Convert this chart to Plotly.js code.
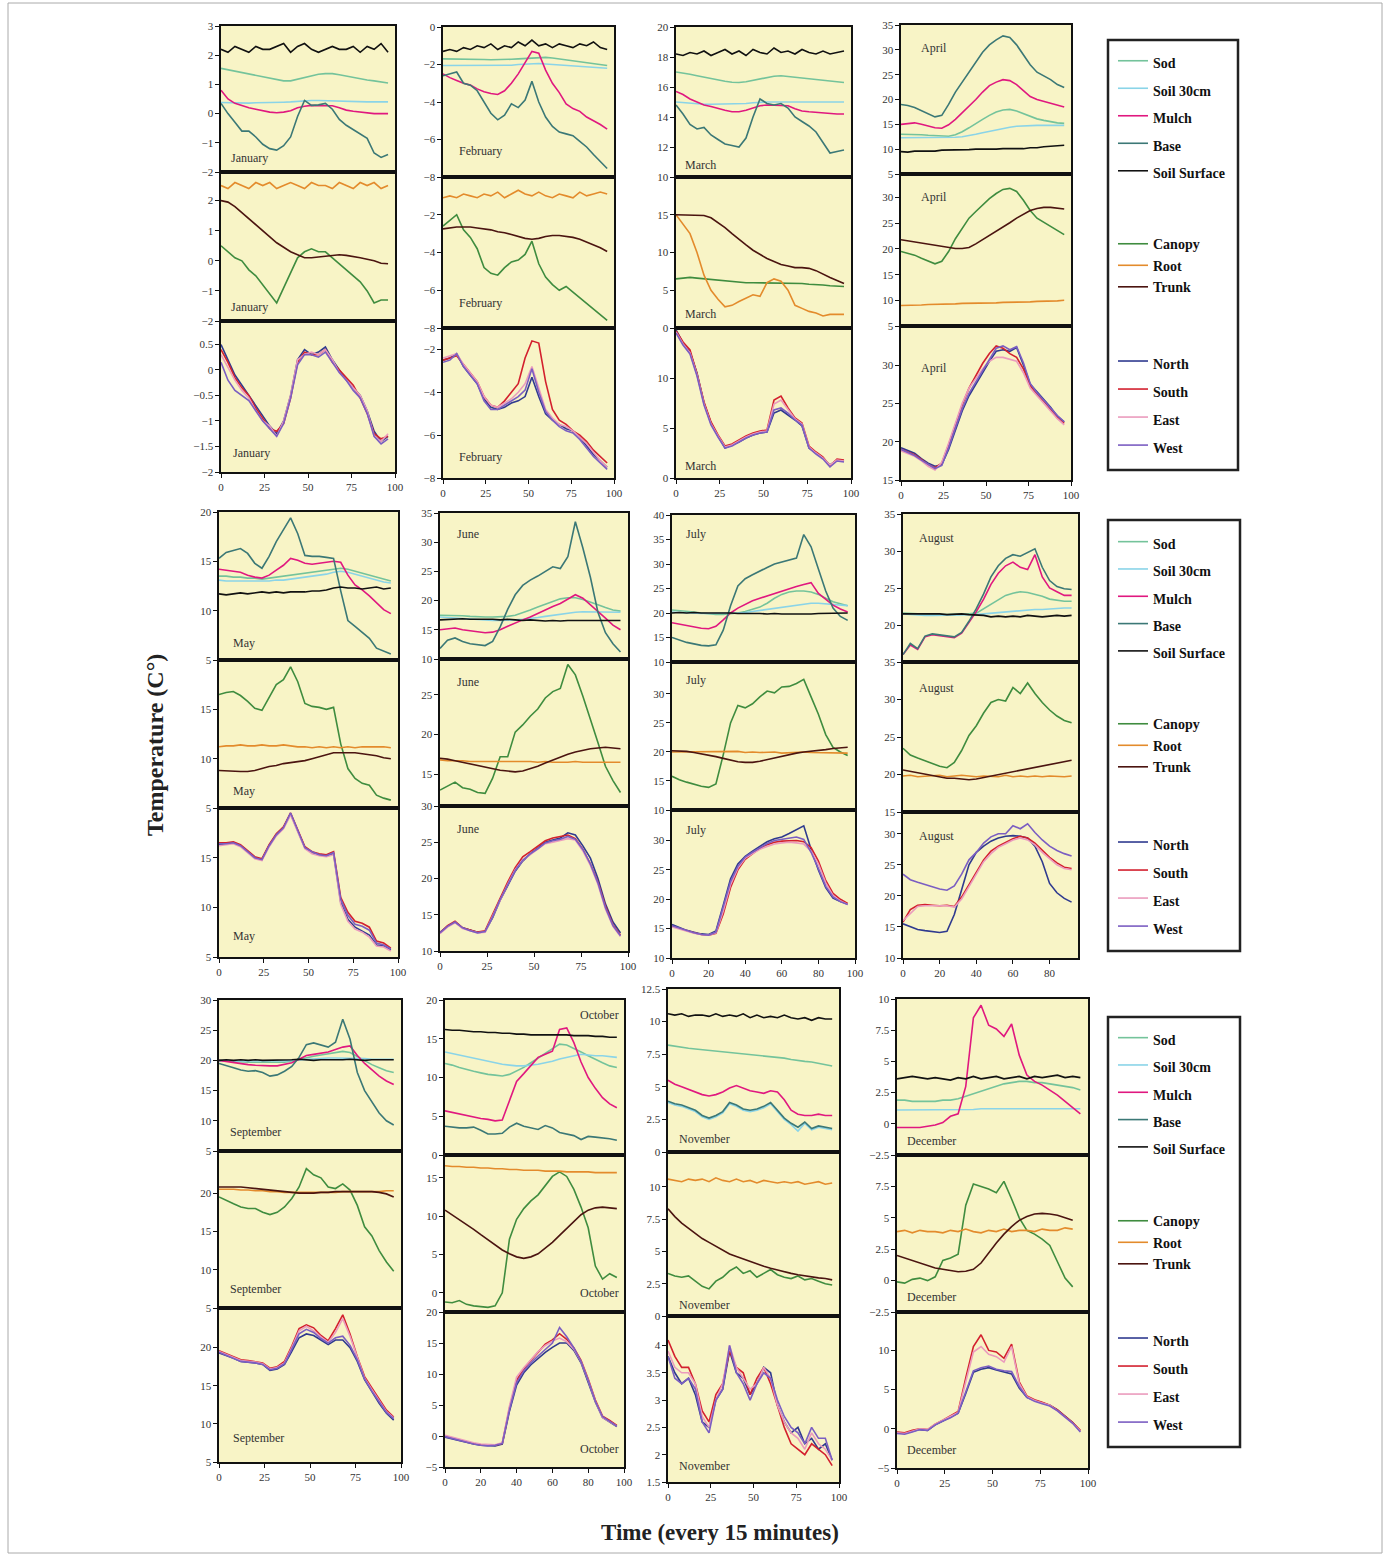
<!DOCTYPE html>
<html><head><meta charset="utf-8">
<script src="https://cdn.plot.ly/plotly-3.0.1.min.js"></script>
<style>html,body{margin:0;padding:0;background:#fff;}#chart{width:1390px;height:1557px;}</style>
</head><body><div id="chart"></div>
<script>
// ---------- x positions (quarter-hour index) ----------
const X96 = [0,4,8,12,16,20,24,28,32,36,40,44,48,52,56,60,64,68,72,76,80,84,88,92,96];
const X92 = [0,4,8,12,16,20,24,28,32,36,40,44,48,52,56,60,64,68,72,76,80,84,88,92];

// ---------- January ----------
const janSod = [1.55,1.5,1.45,1.4,1.35,1.3,1.25,1.2,1.15,1.12,1.12,1.18,1.24,1.3,1.35,1.37,1.37,1.33,1.28,1.25,1.2,1.15,1.12,1.08,1.05];
const janSoil30 = [0.38,0.37,0.37,0.36,0.36,0.37,0.37,0.38,0.38,0.39,0.4,0.42,0.44,0.45,0.45,0.44,0.43,0.42,0.41,0.41,0.4,0.4,0.4,0.41,0.4];
const janMulch = [0.8,0.5,0.35,0.27,0.2,0.15,0.1,0.05,0.03,0.05,0.1,0.2,0.25,0.28,0.27,0.28,0.27,0.2,0.12,0.08,0.05,0.03,0.0,0.0,0.0];
const janBase = [0.35,0.0,-0.3,-0.6,-0.6,-0.8,-1.05,-1.2,-1.25,-1.1,-0.8,-0.1,0.45,0.28,0.3,0.35,0.15,-0.2,-0.4,-0.55,-0.7,-0.85,-1.35,-1.5,-1.4];
const janSurf = [2.2,2.1,2.3,2.2,2.1,2.3,2.2,2.2,2.3,2.4,2.1,2.3,2.4,2.2,2.1,2.2,2.3,2.2,2.2,2.3,2.1,2.3,2.2,2.4,2.1];
const janCanopy = [0.5,0.3,0.1,0.0,-0.3,-0.5,-0.8,-1.1,-1.4,-0.9,-0.4,0.1,0.3,0.4,0.3,0.3,0.1,-0.1,-0.3,-0.5,-0.7,-1.0,-1.4,-1.3,-1.3];
const janRoot = [2.5,2.4,2.6,2.5,2.4,2.6,2.5,2.6,2.4,2.5,2.6,2.5,2.4,2.6,2.5,2.5,2.4,2.6,2.5,2.4,2.6,2.5,2.6,2.4,2.5];
const janTrunk = [2.0,1.95,1.8,1.6,1.4,1.2,1.0,0.8,0.6,0.45,0.3,0.2,0.1,0.1,0.12,0.15,0.18,0.2,0.18,0.15,0.1,0.05,0.0,-0.08,-0.1];
const janNorth = [0.5,0.2,-0.1,-0.3,-0.5,-0.7,-0.9,-1.1,-1.25,-1.0,-0.5,0.2,0.4,0.3,0.35,0.45,0.2,0.0,-0.2,-0.35,-0.5,-0.8,-1.2,-1.4,-1.3];
const janSouth = [0.4,0.15,-0.15,-0.35,-0.5,-0.75,-0.95,-1.15,-1.2,-1.05,-0.55,0.15,0.35,0.3,0.3,0.4,0.15,0.0,-0.15,-0.3,-0.55,-0.85,-1.25,-1.35,-1.3];
const janEast = [0.3,0.05,-0.2,-0.4,-0.55,-0.8,-1.0,-1.1,-1.3,-1.0,-0.5,0.2,0.3,0.35,0.3,0.4,0.2,-0.05,-0.2,-0.35,-0.5,-0.8,-1.3,-1.4,-1.25];
const janWest = [0.15,-0.2,-0.4,-0.5,-0.6,-0.8,-1.0,-1.15,-1.3,-1.05,-0.55,0.1,0.3,0.3,0.25,0.35,0.15,-0.05,-0.2,-0.4,-0.55,-0.85,-1.3,-1.45,-1.35];

// ---------- February ----------
const febSod = [-1.7,-1.7,-1.7,-1.7,-1.7,-1.72,-1.73,-1.75,-1.75,-1.75,-1.72,-1.7,-1.68,-1.65,-1.63,-1.62,-1.65,-1.7,-1.75,-1.8,-1.85,-1.9,-1.95,-2.0,-2.05];
const febSoil30 = [-2.05,-2.05,-2.06,-2.06,-2.07,-2.07,-2.08,-2.08,-2.08,-2.06,-2.04,-2.0,-1.97,-1.95,-1.95,-1.97,-2.0,-2.02,-2.05,-2.08,-2.1,-2.12,-2.15,-2.18,-2.2];
const febMulch = [-2.5,-2.7,-2.85,-3.0,-3.1,-3.3,-3.45,-3.55,-3.6,-3.4,-3.0,-2.5,-1.9,-1.3,-1.4,-2.3,-3.0,-3.5,-4.1,-4.35,-4.5,-4.8,-5.0,-5.2,-5.45];
const febBase = [-2.6,-2.5,-2.4,-3.0,-3.1,-3.4,-4.0,-4.6,-4.95,-4.7,-4.1,-4.3,-3.9,-2.9,-4.0,-4.8,-5.3,-5.6,-5.7,-5.8,-6.1,-6.4,-6.8,-7.2,-7.55];
const febSurf = [-1.3,-1.2,-1.3,-1.1,-1.2,-1.0,-1.1,-0.9,-1.2,-1.0,-1.1,-0.8,-1.0,-0.7,-1.0,-0.9,-1.1,-0.9,-1.0,-1.1,-0.9,-1.0,-0.8,-1.1,-1.2];
const febCanopy = [-2.6,-2.3,-2.0,-2.8,-3.2,-3.8,-4.8,-5.1,-5.2,-4.8,-4.5,-4.4,-4.1,-3.4,-4.6,-5.3,-5.7,-6.0,-5.8,-6.1,-6.4,-6.7,-7.0,-7.3,-7.6];
const febRoot = [-1.1,-1.0,-1.1,-0.9,-1.0,-1.1,-0.9,-1.0,-0.8,-1.1,-0.9,-0.7,-0.9,-1.0,-0.8,-1.0,-1.1,-0.9,-1.0,-1.1,-0.8,-1.0,-0.9,-0.8,-0.9];
const febTrunk = [-2.75,-2.7,-2.65,-2.65,-2.65,-2.7,-2.75,-2.8,-2.9,-2.95,-3.05,-3.15,-3.25,-3.3,-3.25,-3.15,-3.1,-3.1,-3.15,-3.2,-3.3,-3.45,-3.6,-3.75,-3.95];
const febNorth = [-2.5,-2.4,-2.2,-2.8,-3.2,-3.6,-4.3,-4.7,-4.8,-4.7,-4.5,-4.4,-4.2,-3.3,-4.2,-5.0,-5.3,-5.5,-5.7,-5.8,-6.1,-6.5,-6.9,-7.2,-7.5];
const febSouth = [-2.5,-2.4,-2.3,-2.7,-3.1,-3.5,-4.2,-4.6,-4.7,-4.4,-4.0,-3.6,-2.4,-1.6,-1.7,-3.5,-4.8,-5.3,-5.5,-5.8,-6.0,-6.3,-6.7,-7.0,-7.3];
const febEast = [-2.4,-2.3,-2.2,-2.7,-3.1,-3.5,-4.2,-4.6,-4.7,-4.5,-4.3,-4.0,-3.6,-2.8,-3.8,-4.8,-5.2,-5.5,-5.6,-5.8,-6.1,-6.4,-6.8,-7.2,-7.5];
const febWest = [-2.6,-2.5,-2.2,-2.8,-3.2,-3.6,-4.4,-4.8,-4.8,-4.6,-4.4,-4.2,-3.9,-2.9,-4.0,-4.9,-5.3,-5.6,-5.8,-5.9,-6.2,-6.6,-7.0,-7.3,-7.6];

// ---------- March ----------
const marSod = [17.0,16.95,16.85,16.75,16.65,16.55,16.45,16.38,16.32,16.3,16.35,16.45,16.55,16.65,16.72,16.75,16.72,16.65,16.6,16.55,16.5,16.45,16.4,16.35,16.3];
const marSoil30 = [15.0,14.95,14.9,14.85,14.85,14.85,14.85,14.85,14.85,14.85,14.9,14.95,15.0,15.0,15.0,15.0,15.0,14.98,14.95,14.95,14.95,14.95,14.98,15.0,15.0];
const marMulch = [15.7,15.5,15.2,15.0,14.8,14.7,14.55,14.45,14.35,14.35,14.45,14.6,14.75,14.8,14.8,14.75,14.75,14.55,14.4,14.35,14.3,14.25,14.2,14.2,14.2];
const marBase = [14.8,14.2,13.5,13.2,13.3,12.8,12.5,12.2,12.1,12.0,12.6,14.0,15.2,14.9,14.8,14.9,14.6,14.0,13.7,13.4,13.0,12.3,11.6,11.7,11.8];
const marSurf = [18.2,18.1,18.3,18.2,18.4,18.1,18.3,18.5,18.2,18.4,18.1,18.5,18.3,18.2,18.6,18.3,18.4,18.2,18.5,18.3,18.2,18.4,18.2,18.3,18.4];
const marCanopy = [6.5,6.6,6.7,6.6,6.5,6.5,6.4,6.3,6.2,6.1,6.0,6.0,6.0,6.0,6.0,6.0,5.9,5.9,5.9,5.8,5.8,5.7,5.6,5.5,5.5];
const marRoot = [15.0,13.8,12.5,10.0,7.0,5.0,3.8,2.8,3.0,3.5,4.0,4.4,4.2,6.0,6.5,6.2,5.0,3.0,2.6,2.2,2.0,1.6,1.8,1.8,1.8];
const marTrunk = [15.0,15.0,15.0,15.0,14.9,14.6,14.0,13.3,12.5,11.7,11.0,10.3,9.7,9.2,8.8,8.4,8.2,8.0,8.0,7.9,7.6,7.1,6.7,6.3,5.9];
const marNorth = [14.8,13.5,12.6,10.5,7.5,5.5,4.2,3.0,3.3,3.6,4.0,4.3,4.5,4.6,6.5,6.8,6.3,5.8,5.2,3.0,2.5,2.0,1.3,1.8,1.7];
const marSouth = [14.7,13.6,12.8,10.4,7.6,5.6,4.3,3.2,3.4,3.8,4.2,4.5,4.7,4.8,7.8,8.2,7.0,6.0,5.5,3.2,2.6,2.1,1.2,1.9,1.8];
const marEast = [14.6,13.4,12.5,10.3,7.4,5.4,4.2,3.1,3.3,3.7,4.1,4.4,4.6,4.7,7.4,7.8,6.8,5.9,5.4,3.1,2.5,2.0,1.3,1.8,1.7];
const marWest = [14.5,13.3,12.4,10.2,7.3,5.3,4.1,3.0,3.2,3.6,4.0,4.3,4.5,4.6,6.8,7.0,6.5,5.8,5.3,3.0,2.4,1.9,1.1,1.7,1.6];

// ---------- April ----------
const aprSod = [13.0,13.0,12.9,12.9,12.8,12.7,12.6,12.6,12.9,13.5,14.3,15.2,16.0,16.8,17.5,17.9,18.0,17.7,17.2,16.6,16.1,15.8,15.5,15.3,15.2];
const aprSoil30 = [12.3,12.3,12.3,12.3,12.3,12.3,12.3,12.3,12.4,12.5,12.7,13.0,13.3,13.6,13.9,14.2,14.4,14.6,14.7,14.8,14.8,14.8,14.8,14.8,14.8];
const aprMulch = [15.0,15.2,15.3,15.0,14.6,14.3,14.2,14.9,16.0,17.3,18.8,20.0,21.5,22.8,23.5,24.0,23.8,23.0,21.8,20.6,20.0,19.6,19.2,18.9,18.5];
const aprBase = [19.0,18.8,18.4,17.8,17.2,16.5,16.8,19.0,21.5,23.5,25.5,27.5,29.5,31.0,32.0,32.8,32.5,31.0,29.0,27.0,25.5,24.8,24.0,23.0,22.4];
const aprSurf = [9.5,9.4,9.6,9.6,9.7,9.6,9.8,9.8,9.9,9.8,9.9,10.0,10.0,9.9,10.0,10.1,10.1,10.2,10.1,10.3,10.3,10.5,10.6,10.7,10.8];
const aprCanopy = [19.5,19.2,18.8,18.2,17.6,17.1,17.6,19.5,22.0,24.0,26.0,27.3,28.5,29.8,30.8,31.6,31.8,31.2,29.5,27.5,26.0,25.2,24.5,23.7,22.8];
const aprRoot = [9.0,9.0,9.1,9.1,9.2,9.2,9.3,9.3,9.3,9.4,9.4,9.4,9.5,9.5,9.5,9.6,9.6,9.6,9.7,9.7,9.8,9.8,9.9,9.9,10.0];
const aprTrunk = [21.8,21.6,21.4,21.2,21.0,20.8,20.6,20.3,20.1,20.1,20.3,21.0,21.8,22.6,23.4,24.2,25.1,26.0,26.8,27.5,27.9,28.1,28.1,28.0,27.8];
const aprNorth = [19.2,18.8,18.5,17.8,17.2,16.8,17.0,19.0,21.5,24.0,26.0,27.5,29.0,30.5,31.8,32.0,31.8,32.3,30.0,27.5,26.5,25.5,24.5,23.3,22.6];
const aprSouth = [19.0,18.6,18.3,17.7,17.0,16.6,17.2,19.6,22.2,24.8,27.0,28.6,30.2,31.5,32.5,32.2,31.5,31.0,29.5,27.3,26.2,25.3,24.2,23.1,22.4];
const aprEast = [18.8,18.5,18.1,17.5,16.8,16.3,17.3,19.8,22.5,25.0,27.0,28.3,29.5,30.5,31.0,31.0,30.8,30.5,29.0,27.0,26.0,25.0,24.0,23.0,22.2];
const aprWest = [19.0,18.6,18.2,17.6,17.0,16.5,16.9,19.2,21.8,24.3,26.3,27.8,29.2,30.8,32.2,32.5,32.0,32.4,30.3,27.6,26.4,25.4,24.4,23.4,22.6];

// ---------- May ----------
const maySod = [13.5,13.5,13.4,13.4,13.3,13.3,13.2,13.3,13.4,13.5,13.6,13.7,13.8,13.9,14.0,14.1,14.2,14.3,14.2,14.0,13.8,13.6,13.4,13.2,13.0];
const maySoil30 = [13.1,13.0,13.0,13.0,13.0,13.0,13.0,13.0,13.1,13.1,13.2,13.3,13.4,13.5,13.6,13.7,13.9,14.0,13.9,13.7,13.5,13.3,13.1,12.9,12.8];
const mayMulch = [14.2,14.1,14.0,13.9,13.6,13.4,13.3,13.6,14.1,14.6,15.3,15.1,14.8,14.7,14.8,14.9,15.0,14.9,13.6,12.6,12.1,11.5,10.8,10.1,9.7];
const mayBase = [15.3,15.9,16.1,16.3,15.8,14.8,14.3,15.5,17.0,18.2,19.4,17.8,15.6,15.5,15.5,15.4,15.3,12.0,9.0,8.4,7.8,7.2,6.2,5.9,5.6];
const maySurf = [11.7,11.6,11.7,11.8,11.7,11.8,11.9,11.8,11.9,11.8,11.9,11.9,11.9,12.0,12.0,12.1,12.3,12.4,12.3,12.3,12.2,12.3,12.4,12.2,12.3];
const mayCanopy = [16.5,16.7,16.8,16.4,15.8,15.1,14.9,16.2,17.5,18.0,19.3,17.8,15.6,15.3,15.2,15.0,15.2,11.5,9.0,8.0,7.5,7.3,6.3,6.0,5.8];
const mayRoot = [11.2,11.3,11.3,11.4,11.3,11.3,11.4,11.3,11.3,11.4,11.3,11.2,11.2,11.1,11.2,11.1,11.2,11.1,11.2,11.1,11.2,11.2,11.2,11.2,11.1];
const mayTrunk = [8.8,8.75,8.7,8.7,8.7,8.8,9.0,9.2,9.3,9.5,9.6,9.7,9.8,10.0,10.2,10.4,10.6,10.6,10.6,10.6,10.5,10.4,10.3,10.1,10.0];
const mayNorth = [16.3,16.4,16.5,16.2,15.6,15.0,14.8,16.2,17.3,18.0,19.4,17.6,16.0,15.5,15.3,15.2,15.4,10.5,8.8,8.0,7.6,7.2,6.2,6.1,5.7];
const maySouth = [16.5,16.5,16.6,16.3,15.7,15.1,14.9,16.3,17.4,18.1,19.5,17.7,16.1,15.6,15.4,15.3,15.6,11.0,9.5,8.6,8.4,8.0,6.6,6.4,5.9];
const mayEast = [16.2,16.3,16.4,16.1,15.5,14.9,14.7,16.1,17.2,17.9,19.3,17.5,15.9,15.4,15.2,15.1,15.3,10.3,8.6,7.8,7.5,7.0,6.1,6.0,5.6];
const mayWest = [16.4,16.4,16.5,16.2,15.6,15.0,14.8,16.2,17.3,18.0,19.5,17.8,16.0,15.6,15.3,15.2,15.5,10.8,9.2,8.3,8.1,7.7,6.4,6.2,5.8];

// ---------- June ----------
const junSod = [17.5,17.5,17.4,17.4,17.3,17.2,17.2,17.2,17.2,17.3,17.5,17.9,18.4,18.9,19.4,19.9,20.3,20.5,20.5,20.2,19.8,19.3,18.8,18.4,18.2];
const junSoil30 = [17.2,17.1,17.0,17.0,16.9,16.8,16.7,16.6,16.6,16.6,16.7,16.8,16.9,17.1,17.3,17.5,17.7,17.9,18.0,18.1,18.1,18.1,18.0,18.0,18.0];
const junMulch = [15.0,15.2,15.3,15.0,14.8,14.6,14.5,14.6,15.0,15.6,16.2,16.7,17.2,17.8,18.5,19.0,19.5,20.2,21.0,20.4,19.3,18.2,17.0,15.8,15.0];
const junBase = [11.8,13.2,13.6,13.0,12.6,12.4,12.3,13.0,15.5,18.5,21.0,22.6,23.5,24.2,25.0,25.8,25.5,27.5,33.5,29.0,24.0,18.0,14.5,12.6,11.2];
const junSurf = [16.7,16.8,16.8,16.9,16.8,16.8,16.9,16.8,16.7,16.8,16.7,16.6,16.7,16.6,16.5,16.6,16.5,16.6,16.6,16.5,16.6,16.6,16.5,16.6,16.6];
const junCanopy = [13.0,13.5,14.0,13.3,13.1,12.7,12.6,14.5,17.2,17.2,20.3,21.2,22.3,23.2,24.6,25.4,25.8,28.8,27.5,24.8,22.0,19.0,16.0,14.2,12.7];
const junRoot = [16.8,16.7,16.7,16.7,16.6,16.6,16.6,16.6,16.6,16.6,16.6,16.6,16.6,16.5,16.6,16.5,16.5,16.5,16.6,16.5,16.5,16.5,16.5,16.5,16.5];
const junTrunk = [17.0,16.9,16.7,16.5,16.3,16.1,15.9,15.7,15.5,15.4,15.3,15.4,15.7,16.0,16.4,16.8,17.2,17.5,17.8,18.0,18.2,18.3,18.4,18.3,18.2];
const junNorth = [12.6,13.4,14.0,13.2,12.9,12.6,12.7,14.6,17.0,19.0,21.0,22.4,23.4,24.2,25.0,25.3,25.6,26.3,26.0,24.5,22.8,20.0,16.5,14.0,12.5];
const junSouth = [12.5,13.5,14.1,13.2,12.9,12.6,12.8,15.0,17.4,19.5,21.5,23.0,23.7,24.4,25.2,25.6,25.8,26.0,25.5,24.0,22.0,19.5,16.2,13.6,12.2];
const junEast = [12.4,13.3,13.9,13.1,12.8,12.5,12.6,14.8,17.2,19.2,21.2,22.5,23.3,24.0,24.8,25.0,25.2,25.5,25.3,23.8,21.8,19.2,15.8,13.4,12.0];
const junWest = [12.5,13.4,14.0,13.2,12.8,12.5,12.7,14.7,17.1,19.1,21.1,22.5,23.4,24.1,24.9,25.2,25.4,25.8,25.4,24.0,22.0,19.4,16.0,13.5,12.1];

// ---------- July ----------
const julSod = [20.6,20.5,20.4,20.2,20.0,19.8,19.7,19.7,19.8,20.0,20.3,20.7,21.2,22.0,23.0,23.8,24.3,24.5,24.5,24.3,23.8,23.0,22.3,21.9,21.5];
const julSoil30 = [20.2,20.1,20.0,20.0,19.9,19.9,19.9,19.9,19.9,20.0,20.1,20.3,20.5,20.7,20.9,21.1,21.4,21.6,21.8,22.0,22.0,21.9,21.7,21.6,21.5];
const julMulch = [18.0,17.7,17.4,17.1,16.9,16.8,17.3,18.6,20.0,21.0,21.8,22.5,23.0,23.5,24.0,24.4,24.9,25.4,25.8,26.2,24.0,22.8,21.6,20.8,20.2];
const julBase = [15.0,14.5,14.0,13.7,13.4,13.3,13.5,16.5,21.5,25.5,27.0,27.8,28.6,29.3,30.0,30.4,30.8,31.2,36.0,33.5,29.0,24.5,21.0,19.3,18.5];
const julSurf = [20.0,20.1,20.0,20.1,20.0,20.0,20.1,20.0,20.0,19.9,19.9,20.0,19.9,19.8,19.9,19.8,19.8,19.7,19.8,19.8,19.9,19.9,20.0,20.0,20.0];
const julCanopy = [15.8,15.2,14.8,14.4,14.1,13.9,14.5,19.5,25.0,28.0,27.6,28.3,29.5,30.5,30.2,31.2,31.3,31.8,32.5,29.5,26.5,23.0,20.8,20.0,19.4];
const julRoot = [20.0,20.0,20.0,20.0,20.1,20.0,20.0,20.0,20.0,20.1,19.9,20.0,19.9,19.9,20.0,19.8,19.9,19.9,20.0,19.9,19.9,19.9,19.9,19.8,19.8];
const julTrunk = [20.2,20.2,20.1,19.9,19.7,19.5,19.2,18.9,18.6,18.3,18.2,18.2,18.4,18.7,19.0,19.3,19.6,19.8,20.0,20.1,20.3,20.4,20.6,20.7,20.8];
const julNorth = [15.7,15.2,14.7,14.4,14.1,14.0,14.6,19.0,23.5,26.0,27.3,28.2,29.0,29.8,30.3,30.6,31.2,31.8,32.5,28.5,25.0,22.0,20.2,19.6,19.2];
const julSouth = [15.4,15.0,14.6,14.3,14.0,13.9,14.2,17.5,22.0,25.0,26.8,27.8,28.7,29.3,29.7,29.9,30.0,30.0,29.8,28.8,26.5,23.2,21.0,20.0,19.3];
const julEast = [15.3,14.9,14.5,14.2,14.0,13.9,14.3,18.0,22.5,25.3,27.0,27.8,28.5,29.0,29.4,29.6,29.7,29.6,29.4,28.2,26.0,22.8,20.6,19.7,19.1];
const julWest = [15.5,15.1,14.6,14.3,14.0,13.9,14.4,18.5,23.0,25.6,27.2,28.0,28.8,29.5,30.0,30.2,30.4,30.6,30.2,28.0,25.2,22.2,20.4,19.6,19.1];

// ---------- August ----------
const augSod = [21.6,21.5,21.5,21.5,21.4,21.4,21.4,21.4,21.4,21.5,21.6,22.2,22.8,23.5,24.0,24.3,24.5,24.4,24.2,23.9,23.5,23.3,23.2,23.2];
const augSoil30 = [21.5,21.4,21.4,21.3,21.3,21.3,21.3,21.3,21.3,21.3,21.4,21.5,21.6,21.7,21.8,21.9,22.0,22.0,22.1,22.1,22.2,22.2,22.3,22.3];
const augMulch = [16.0,17.3,16.7,18.4,18.7,18.6,18.4,18.3,18.9,20.3,21.8,23.5,25.5,27.0,28.0,28.5,27.8,27.5,29.5,26.5,25.0,24.5,24.0,24.0];
const augBase = [16.0,17.5,16.8,18.5,18.8,18.7,18.5,18.4,19.0,20.5,22.2,24.2,26.5,28.0,29.0,29.5,29.3,29.8,30.3,27.8,26.0,25.2,24.9,24.8];
const augSurf = [21.5,21.5,21.6,21.5,21.6,21.5,21.4,21.5,21.5,21.4,21.4,21.3,21.1,21.2,21.1,21.2,21.1,21.3,21.2,21.1,21.2,21.3,21.2,21.3];
const augCanopy = [23.5,22.6,22.2,21.8,21.5,21.1,20.9,21.6,23.2,25.2,26.5,28.2,29.6,30.0,29.8,31.6,30.8,32.2,30.8,29.6,28.6,27.8,27.2,26.9];
const augRoot = [19.8,19.9,19.7,19.8,19.8,19.9,19.7,19.8,19.9,19.8,19.7,19.8,19.8,19.7,19.9,19.7,19.8,19.7,19.8,19.7,19.8,19.7,19.7,19.8];
const augTrunk = [20.6,20.4,20.2,20.0,19.8,19.7,19.5,19.5,19.4,19.3,19.4,19.6,19.8,20.0,20.2,20.4,20.6,20.8,21.0,21.2,21.4,21.6,21.8,21.9];
const augNorth = [15.5,15.0,14.6,14.4,14.2,14.1,14.3,17.0,21.0,25.0,27.0,28.0,28.8,29.3,29.6,29.7,29.6,29.3,28.0,25.5,22.0,20.5,19.6,19.0];
const augSouth = [15.8,17.8,18.5,18.6,18.5,18.4,18.5,18.3,19.8,21.8,23.8,25.8,27.2,28.0,28.6,29.2,29.6,29.3,28.5,27.3,26.2,25.3,24.6,24.4];
const augEast = [16.0,17.2,18.3,18.4,18.4,18.3,18.4,18.2,19.5,21.5,23.5,25.5,26.8,27.8,28.4,29.0,29.3,29.0,28.2,27.0,26.0,25.0,24.4,24.2];
const augWest = [23.5,22.6,22.2,21.8,21.4,21.1,20.9,21.6,23.5,25.8,27.0,28.5,29.5,30.0,30.0,31.3,30.8,31.6,30.2,29.0,28.0,27.3,26.8,26.4];

// ---------- September ----------
const sepSod = [20.0,19.9,19.8,19.8,19.7,19.7,19.7,19.6,19.6,19.7,19.9,20.2,20.5,20.7,20.9,21.1,21.3,21.5,21.3,20.6,20.0,19.3,18.8,18.3,18.0];
const sepSoil30 = [19.9,19.9,19.9,19.8,19.8,19.8,19.8,19.8,19.8,19.9,20.0,20.1,20.2,20.3,20.3,20.4,20.4,20.4,20.4,20.3,20.3,20.2,20.2,20.2,20.2];
const sepMulch = [20.0,19.8,19.6,19.4,19.3,19.2,19.1,19.1,19.1,19.3,19.6,20.2,20.8,21.0,21.2,21.4,21.8,22.2,22.4,20.8,19.5,18.4,17.4,16.6,16.0];
const sepBase = [19.5,19.2,18.8,18.4,18.2,18.3,18.0,17.4,17.6,18.2,19.0,20.5,22.6,22.9,22.5,22.2,23.0,26.8,23.5,18.0,15.0,13.2,11.3,10.0,9.3];
const sepSurf = [20.0,20.1,20.0,20.1,20.0,20.1,20.0,20.0,20.1,20.0,20.1,20.2,20.1,20.0,20.1,20.1,20.0,20.1,20.2,20.1,20.0,20.1,20.1,20.0,20.1];
const sepCanopy = [19.5,19.0,18.6,18.2,18.0,18.0,17.5,17.2,17.5,18.2,19.3,20.8,23.2,22.4,22.0,20.8,20.6,21.2,20.4,18.4,15.6,14.4,12.5,11.0,9.8];
const sepRoot = [20.5,20.5,20.5,20.4,20.4,20.3,20.3,20.2,20.2,20.1,20.1,20.1,20.1,20.1,20.1,20.1,20.1,20.2,20.2,20.2,20.2,20.2,20.2,20.3,20.3];
const sepTrunk = [20.8,20.8,20.8,20.8,20.7,20.6,20.5,20.4,20.3,20.2,20.1,20.0,20.0,20.0,20.1,20.1,20.2,20.2,20.2,20.2,20.2,20.2,20.1,19.9,19.5];
const sepNorth = [19.3,19.0,18.6,18.2,18.1,18.0,17.8,17.0,17.2,17.8,19.5,21.3,21.8,21.6,21.0,20.4,21.0,21.0,20.0,18.2,15.8,14.2,12.7,11.4,10.5];
const sepSouth = [19.6,19.2,18.8,18.4,18.3,18.2,18.0,17.3,17.5,18.2,20.2,22.5,23.0,22.6,21.6,20.9,22.5,24.3,21.8,18.8,16.2,14.7,13.2,11.8,10.9];
const sepEast = [19.5,19.1,18.7,18.3,18.2,18.1,17.9,17.2,17.4,18.0,20.0,22.2,22.8,22.2,21.4,20.7,22.0,23.8,21.5,18.6,16.0,14.5,13.0,11.6,10.8];
const sepWest = [19.4,19.0,18.6,18.2,18.1,18.0,17.8,17.1,17.3,17.9,19.8,21.8,22.4,22.0,21.2,20.6,21.3,21.5,20.3,18.4,15.9,14.3,12.9,11.5,10.7];

// ---------- October ----------
const octSod = [11.8,11.6,11.3,11.0,10.8,10.6,10.4,10.3,10.2,10.4,10.8,11.3,11.9,12.5,13.2,13.8,14.3,14.2,13.8,13.3,12.8,12.3,11.9,11.5,11.3];
const octSoil30 = [13.3,13.1,12.9,12.7,12.5,12.3,12.1,11.9,11.7,11.6,11.5,11.5,11.6,11.7,11.9,12.1,12.4,12.6,12.8,13.0,12.9,12.8,12.8,12.7,12.6];
const octMulch = [5.7,5.5,5.3,5.1,4.9,4.7,4.6,4.4,4.5,7.0,9.5,10.5,11.6,12.6,13.0,13.4,16.2,16.4,14.5,12.0,10.0,8.6,7.4,6.6,6.1];
const octBase = [3.7,3.6,3.5,3.5,3.6,3.2,2.7,2.7,2.8,3.6,4.1,3.7,3.5,3.3,3.8,3.5,2.9,2.7,2.5,2.0,2.4,2.3,2.2,2.1,1.9];
const octSurf = [16.2,16.1,16.1,16.0,15.9,15.9,15.8,15.8,15.7,15.7,15.6,15.6,15.5,15.5,15.5,15.5,15.5,15.5,15.4,15.4,15.4,15.3,15.3,15.2,15.2];
const octCanopy = [-1.2,-1.3,-1.0,-1.5,-1.7,-1.8,-1.9,-1.7,0.0,7.0,9.6,11.0,12.0,12.8,14.0,15.2,15.8,15.2,13.5,11.2,8.5,3.5,1.8,2.5,2.0];
const octRoot = [16.6,16.5,16.5,16.4,16.4,16.3,16.3,16.2,16.2,16.1,16.1,16.0,16.0,16.0,15.9,15.9,15.9,15.8,15.8,15.8,15.8,15.7,15.7,15.7,15.7];
const octTrunk = [10.8,10.2,9.6,8.9,8.3,7.6,6.9,6.2,5.6,5.1,4.7,4.5,4.7,5.1,5.8,6.6,7.5,8.4,9.3,10.2,10.8,11.1,11.2,11.1,11.0];
const octNorth = [-0.2,-0.5,-0.8,-1.0,-1.3,-1.5,-1.6,-1.6,-1.3,4.0,8.2,10.2,11.5,12.5,13.5,14.3,15.0,15.0,13.8,11.8,8.8,5.5,3.0,2.3,1.5];
const octSouth = [0.0,-0.3,-0.7,-0.9,-1.2,-1.4,-1.5,-1.5,-1.2,4.5,9.0,10.8,12.2,13.5,14.8,15.5,16.5,15.6,14.2,12.2,9.2,5.8,3.2,2.5,1.7];
const octEast = [0.1,-0.2,-0.6,-0.9,-1.1,-1.3,-1.4,-1.4,-1.1,4.8,9.5,11.0,12.3,13.6,14.6,15.3,15.8,15.2,14.0,12.0,9.0,5.6,3.0,2.3,1.6];
const octWest = [-0.1,-0.4,-0.8,-1.1,-1.3,-1.5,-1.6,-1.5,-1.2,4.2,8.6,10.5,11.8,12.9,14.0,15.0,17.5,16.0,14.2,12.0,9.0,5.6,3.1,2.4,1.6];

// ---------- November ----------
const novSod = [8.2,8.1,8.0,7.95,7.9,7.85,7.8,7.75,7.7,7.65,7.6,7.55,7.5,7.45,7.4,7.35,7.3,7.2,7.1,7.0,6.95,6.9,6.8,6.7,6.6];
const novSoil30 = [3.8,3.6,3.5,3.3,3.1,2.7,2.5,2.7,3.0,3.7,3.5,3.2,3.1,3.2,3.4,3.7,3.1,2.5,2.1,1.6,2.2,1.7,1.9,1.8,1.7];
const novMulch = [5.5,5.2,5.0,4.8,4.6,4.4,4.3,4.4,4.6,4.9,5.1,4.9,4.7,4.6,4.5,4.7,4.6,4.0,3.2,2.9,2.8,2.8,2.9,2.8,2.8];
const novBase = [3.9,3.7,3.6,3.4,3.2,2.8,2.6,2.8,3.1,3.8,3.6,3.3,3.2,3.3,3.5,3.8,3.2,2.6,2.2,1.9,2.3,1.8,2.0,1.9,1.8];
const novSurf = [10.6,10.5,10.6,10.4,10.5,10.5,10.4,10.6,10.4,10.5,10.4,10.6,10.3,10.5,10.3,10.4,10.3,10.5,10.3,10.2,10.3,10.1,10.3,10.2,10.2];
const novCanopy = [3.3,3.1,3.0,3.1,2.7,2.3,2.1,2.7,3.0,3.5,3.8,3.3,3.5,3.0,3.3,3.6,3.2,3.0,2.9,3.1,2.8,2.9,2.7,2.5,2.4];
const novRoot = [10.6,10.5,10.4,10.6,10.5,10.6,10.4,10.7,10.5,10.4,10.6,10.4,10.5,10.3,10.5,10.4,10.3,10.4,10.3,10.4,10.2,10.3,10.4,10.2,10.3];
const novTrunk = [8.3,7.7,7.2,6.8,6.4,6.0,5.7,5.4,5.1,4.8,4.6,4.4,4.2,4.0,3.85,3.7,3.55,3.4,3.3,3.2,3.1,3.0,2.95,2.9,2.8];
const novNorth = [3.8,3.5,3.3,3.4,3.1,2.6,2.5,3.0,3.2,3.9,3.5,3.4,3.1,3.3,3.6,3.5,2.9,2.6,2.4,2.5,2.2,2.3,2.1,2.2,1.9];
const novSouth = [4.1,3.8,3.6,3.6,3.3,2.8,2.6,3.1,3.3,3.9,3.6,3.5,3.1,3.4,3.6,3.3,2.9,2.5,2.2,2.1,2.0,2.2,2.1,2.0,1.8];
const novEast = [3.9,3.6,3.5,3.5,3.3,2.7,2.5,3.0,3.3,4.0,3.6,3.4,3.2,3.3,3.6,3.4,2.9,2.6,2.4,2.3,2.1,2.4,2.2,2.1,1.9];
const novWest = [3.8,3.4,3.3,3.4,3.2,2.6,2.4,3.0,3.2,4.0,3.5,3.3,3.0,3.3,3.5,3.4,3.0,2.7,2.5,2.4,2.2,2.5,2.3,2.3,1.9];

// ---------- December ----------
const decSod = [1.9,1.9,1.8,1.8,1.8,1.8,1.9,1.9,2.0,2.2,2.4,2.6,2.8,3.0,3.2,3.3,3.4,3.4,3.3,3.3,3.2,3.1,3.0,2.9,2.7];
const decSoil30 = [1.1,1.1,1.1,1.1,1.1,1.1,1.1,1.1,1.1,1.1,1.15,1.2,1.2,1.2,1.2,1.2,1.2,1.2,1.2,1.2,1.2,1.2,1.2,1.2,1.2];
const decMulch = [-0.3,-0.3,-0.3,-0.3,-0.2,-0.1,0.1,0.6,0.8,3.0,8.5,9.5,7.9,7.6,7.0,8.0,5.5,3.9,3.4,3.1,2.7,2.3,1.8,1.3,0.8];
const decSurf = [3.6,3.7,3.8,3.7,3.6,3.7,3.6,3.5,3.7,3.6,3.8,3.6,3.7,3.8,3.6,3.7,3.8,3.6,3.8,3.7,3.8,3.9,3.7,3.8,3.7];
const decCanopy = [-0.1,-0.2,0.1,0.2,0.0,0.3,1.6,1.8,2.1,6.0,7.7,7.5,7.3,7.0,7.9,6.5,5.0,4.0,3.7,3.3,2.8,1.5,0.2,-0.5];
const decRoot = [3.9,4.0,3.8,4.0,3.9,3.9,3.8,4.0,3.9,4.1,3.9,3.8,4.0,3.9,4.1,3.9,4.0,4.0,3.9,4.1,4.0,4.0,4.2,4.1];
const decTrunk = [2.0,1.8,1.6,1.4,1.2,1.0,0.9,0.8,0.7,0.75,0.9,1.4,2.2,3.0,3.7,4.3,4.8,5.1,5.3,5.35,5.3,5.2,5.0,4.8];
const decNorth = [-0.5,-0.6,-0.3,-0.1,-0.2,0.5,1.0,1.5,2.0,4.5,7.2,7.6,7.8,7.5,7.2,7.0,5.2,4.0,3.6,3.3,3.0,2.4,1.6,0.8,-0.3];
const decSouth = [-0.4,-0.5,-0.2,0.0,-0.1,0.6,1.1,1.6,2.2,6.5,10.5,12.0,10.0,9.8,9.0,10.8,6.0,4.2,3.7,3.4,3.0,2.4,1.6,0.8,-0.2];
const decEast = [-0.5,-0.6,-0.3,0.0,-0.1,0.6,1.1,1.6,2.1,6.0,9.8,10.5,9.5,9.2,8.5,10.5,5.8,4.1,3.6,3.3,3.0,2.3,1.5,0.7,-0.3];
const decWest = [-0.6,-0.7,-0.4,-0.1,-0.2,0.5,1.0,1.4,2.0,4.8,7.4,7.8,8.0,7.6,7.4,7.3,5.4,4.0,3.5,3.2,2.9,2.3,1.5,0.7,-0.4];

// ---------- series names / colours ----------
const GROUP_A = ['Sod','Soil 30cm','Mulch','Base','Soil Surface'];
const GROUP_B = ['Canopy','Root','Trunk'];
const GROUP_C = ['North','South','East','West'];
const COLORS = {
  'Sod':'#74c39b','Soil 30cm':'#8ad4e8','Mulch':'#e0187f','Base':'#3b7876','Soil Surface':'#111111',
  'Canopy':'#3f8c3f','Root':'#e38b2c','Trunk':'#4b1410',
  'North':'#2f3a8f','South':'#d3202e','East':'#eb9bbd','West':'#7b5ec2'
};

const MONTH_DATA = [
  {name:'January', xs:[X96,X96,X96], rows:[[janSod,janSoil30,janMulch,janBase,janSurf],[janCanopy,janRoot,janTrunk],[janNorth,janSouth,janEast,janWest]]},
  {name:'February', xs:[X96,X96,X96], rows:[[febSod,febSoil30,febMulch,febBase,febSurf],[febCanopy,febRoot,febTrunk],[febNorth,febSouth,febEast,febWest]]},
  {name:'March', xs:[X96,X96,X96], rows:[[marSod,marSoil30,marMulch,marBase,marSurf],[marCanopy,marRoot,marTrunk],[marNorth,marSouth,marEast,marWest]]},
  {name:'April', xs:[X96,X96,X96], rows:[[aprSod,aprSoil30,aprMulch,aprBase,aprSurf],[aprCanopy,aprRoot,aprTrunk],[aprNorth,aprSouth,aprEast,aprWest]]},
  {name:'May', xs:[X96,X96,X96], rows:[[maySod,maySoil30,mayMulch,mayBase,maySurf],[mayCanopy,mayRoot,mayTrunk],[mayNorth,maySouth,mayEast,mayWest]]},
  {name:'June', xs:[X96,X96,X96], rows:[[junSod,junSoil30,junMulch,junBase,junSurf],[junCanopy,junRoot,junTrunk],[junNorth,junSouth,junEast,junWest]]},
  {name:'July', xs:[X96,X96,X96], rows:[[julSod,julSoil30,julMulch,julBase,julSurf],[julCanopy,julRoot,julTrunk],[julNorth,julSouth,julEast,julWest]]},
  {name:'August', xs:[X92,X92,X92], rows:[[augSod,augSoil30,augMulch,augBase,augSurf],[augCanopy,augRoot,augTrunk],[augNorth,augSouth,augEast,augWest]]},
  {name:'September', xs:[X96,X96,X96], rows:[[sepSod,sepSoil30,sepMulch,sepBase,sepSurf],[sepCanopy,sepRoot,sepTrunk],[sepNorth,sepSouth,sepEast,sepWest]]},
  {name:'October', xs:[X96,X96,X96], rows:[[octSod,octSoil30,octMulch,octBase,octSurf],[octCanopy,octRoot,octTrunk],[octNorth,octSouth,octEast,octWest]]},
  {name:'November', xs:[X96,X96,X96], rows:[[novSod,novSoil30,novMulch,novBase,novSurf],[novCanopy,novRoot,novTrunk],[novNorth,novSouth,novEast,novWest]]},
  {name:'December', xs:[X96,X92,X96], rows:[[decSod,decSoil30,decMulch,null,decSurf],[decCanopy,decRoot,decTrunk],[decNorth,decSouth,decEast,decWest]]}
];

// ---------- layout (pixel boxes: left,right,topA,bottomA,bottomB,bottomC) ----------
const W = 1390, H = 1557;
const T25 = [0,25,50,75,100], T20 = [0,20,40,60,80,100];
const PANEL = {
  January:{box:[221,395,26,172,321,472], xr:[0,100], xt:T25,
    yr:[[-2,3],[-2,2.95],[-2,0.96]], yt:[[-2,-1,0,1,2,3],[-2,-1,0,1,2],[-2,-1.5,-1,-0.5,0,0.5]],
    lab:[['bl',8,14],['bl',8,14],['bl',10,19]]},
  February:{box:[443,614,27,177,328,478], xr:[0,100], xt:T25,
    yr:[[-8,0],[-8,0],[-8,-1]], yt:[[-8,-6,-4,-2,0],[-8,-6,-4,-2],[-8,-6,-4,-2]],
    lab:[['bl',14,26],['bl',14,25],['bl',14,21]]},
  March:{box:[676,851,27,177,328,478], xr:[0,100], xt:T25,
    yr:[[10,20],[0,20],[0,15]], yt:[[10,12,14,16,18,20],[0,5,10,15],[0,5,10]],
    lab:[['bl',7,12],['bl',7,14],['bl',7,12]]},
  April:{box:[901,1071,25,174,326,480], xr:[0,100], xt:T25,
    yr:[[5,35],[5,34.6],[15,35.1]], yt:[[5,10,15,20,25,30,35],[5,10,15,20,25,30],[15,20,25,30]],
    lab:[['tl',18,23],['tl',18,23],['tl',18,42]]},
  May:{box:[219,398,512,660,808,957], xr:[0,100], xt:T25,
    yr:[[5,20],[5,20],[5,20]], yt:[[5,10,15,20],[5,10,15],[5,10,15]],
    lab:[['bl',12,17],['bl',12,17],['bl',12,21]]},
  June:{box:[440,628,513,659,806,951], xr:[0,100], xt:T25,
    yr:[[10,35],[11,29.5],[10,30]], yt:[[10,15,20,25,30,35],[15,20,25],[10,15,20,25,30]],
    lab:[['tl',15,21],['tl',15,23],['tl',15,23]]},
  July:{box:[672,855,515,662,810,958], xr:[0,100], xt:T20,
    yr:[[10,40],[10,35.5],[10,35.2]], yt:[[10,15,20,25,30,35,40],[10,15,20,25,30],[10,15,20,25,30]],
    lab:[['tl',12,19],['tl',12,18],['tl',12,20]]},
  August:{box:[903,1078,514,662,812,958], xr:[0,95.5], xt:[0,20,40,60,80],
    yr:[[15,35],[15,35],[10,33.5]], yt:[[20,25,30,35],[15,20,25,30,35],[10,15,20,25,30]],
    lab:[['tl',14,24],['tl',14,26],['tl',14,24]]},
  September:{box:[219,401,1000,1151,1308,1462], xr:[0,100], xt:T25,
    yr:[[5,30],[5,25.5],[5,25.2]], yt:[[5,10,15,20,25,30],[5,10,15,20],[5,10,15,20]],
    lab:[['bl',9,19],['bl',9,19],['bl',12,24]]},
  October:{box:[445,624,1000,1155,1312,1467], xr:[0,100], xt:T20,
    yr:[[0,20],[-2.5,18],[-5,20]], yt:[[0,5,10,15,20],[0,5,10,15],[-5,0,5,10,15,20]],
    lab:[['tr',3,15],['br',3,19],['br',3,18]]},
  November:{box:[668,839,989,1152,1316,1482], xr:[0,100], xt:T25,
    yr:[[0,12.5],[0,12.7],[1.5,4.54]], yt:[[0,2.5,5,7.5,10,12.5],[0,2.5,5,7.5,10],[1.5,2,2.5,3,3.5,4]],
    lab:[['bl',9,13],['bl',9,11],['bl',9,16]]},
  December:{box:[897,1088,999,1155,1312,1468], xr:[0,100], xt:T25,
    yr:[[-2.5,10],[-2.5,10],[-5,14.9]], yt:[[-2.5,0,2.5,5,7.5,10],[-2.5,0,2.5,5,7.5],[-5,0,5,10]],
    lab:[['bl',8,14],['bl',8,15],['bl',8,18]]}
};
const LEGEND_OWNER = {January:['legend','legend2','legend3'], May:['legend4','legend5','legend6'], September:['legend7','legend8','legend9']};
const GROUPS = [GROUP_A, GROUP_B, GROUP_C];
const TICKFONT = {family:'Liberation Serif', size:11, color:'#333'};

const traces = [];
const layout = {
  width:W, height:H, margin:{l:0,r:0,t:0,b:0},
  paper_bgcolor:'#ffffff', plot_bgcolor:'#f8f4c6',
  font:{family:'Liberation Serif', color:'#222'},
  showlegend:true, annotations:[], shapes:[]
};

MONTH_DATA.forEach((m, mi) => {
  const cfg = PANEL[m.name];
  const [L,R,tA,bA,bB,bC] = cfg.box;
  const edges = [[tA,bA],[bA,bB],[bB,bC]];
  for (let ri = 0; ri < 3; ri++) {
    const k = mi*3 + ri + 1;
    const sfx = k === 1 ? '' : String(k);
    const [top, bot] = edges[ri];
    layout['xaxis'+sfx] = {
      domain:[L/W, R/W], anchor:'y'+sfx, range:cfg.xr,
      showline:true, mirror:true, linecolor:'#111', linewidth:1.6,
      showgrid:false, zeroline:false, fixedrange:true,
      tickmode:'array', tickvals: ri === 2 ? cfg.xt : [],
      ticks: ri === 2 ? 'outside' : '', ticklen:4, tickwidth:1, tickcolor:'#111',
      showticklabels: ri === 2, tickfont:TICKFONT
    };
    layout['yaxis'+sfx] = {
      domain:[1-bot/H, 1-top/H], anchor:'x'+sfx, range:cfg.yr[ri],
      showline:true, mirror:true, linecolor:'#111', linewidth:1.6,
      showgrid:false, zeroline:false, fixedrange:true,
      tickmode:'array', tickvals:cfg.yt[ri], ticks:'outside', ticklen:4, tickwidth:1, tickcolor:'#111',
      tickfont:TICKFONT
    };
    const owner = LEGEND_OWNER[m.name];
    m.rows[ri].forEach((ys, si) => {
      if (!ys) return;
      const nm = GROUPS[ri][si];
      traces.push({
        type:'scatter', mode:'lines', x:m.xs[ri], y:ys,
        xaxis:'x'+sfx, yaxis:'y'+sfx,
        name:'<span style="font-size:14px">'+nm+'</span>',
        line:{color:COLORS[nm], width:1.6},
        showlegend: !!owner, legend: owner ? owner[ri] : 'legend',
        hoverinfo:'skip'
      });
    });
    const [corner, dx, dy] = cfg.lab[ri];
    const ax = corner[1] === 'l' ? L + dx : R - dx;
    const ay = corner[0] === 'b' ? bot - dy : top + dy;
    layout.annotations.push({
      xref:'paper', yref:'paper', x:ax/W, y:1-ay/H,
      xanchor: corner[1] === 'l' ? 'left' : 'right', yanchor:'middle',
      text:m.name, showarrow:false,
      font:{family:'Liberation Serif', size:12, color:'#333'}
    });
  }
});

// legends: three groups per block
function legendDef(topPx, size) {
  return {x:1113/W, xanchor:'left', y:1-topPx/H, yanchor:'top', xref:'paper', yref:'paper',
    bgcolor:'rgba(0,0,0,0)', borderwidth:0, traceorder:'normal',
    font:{family:'Liberation Serif', size:size, color:'#111', weight:'bold'}};
}
layout.legend  = legendDef(42, 18.85);
layout.legend2 = legendDef(228, 14.25);
layout.legend3 = legendDef(342, 19.25);
layout.legend4 = legendDef(523, 18.7);
layout.legend5 = legendDef(708, 14.25);
layout.legend6 = legendDef(823, 19.25);
layout.legend7 = legendDef(1019, 18.7);
layout.legend8 = legendDef(1205, 14.25);
layout.legend9 = legendDef(1319, 19.25);

// legend frames and outer frame
function rectPx(x0, y0, x1, y1, color, width) {
  return {type:'rect', xref:'paper', yref:'paper', x0:x0/W, x1:x1/W, y0:1-y1/H, y1:1-y0/H,
    line:{color:color, width:width}, fillcolor:'rgba(0,0,0,0)', layer:'above'};
}
layout.shapes.push(rectPx(1108, 40, 1238, 470, '#222', 2.5));
layout.shapes.push(rectPx(1108, 520, 1240, 951, '#222', 2.5));
layout.shapes.push(rectPx(1108, 1017, 1240, 1447, '#222', 2.5));
layout.shapes.push(rectPx(8, 3, 1382, 1553, '#aaaaaa', 1));

// axis titles
layout.annotations.push({xref:'paper', yref:'paper', x:155/W, y:1-745/H, text:'<b>Temperature (C°)</b>',
  textangle:-90, showarrow:false, xanchor:'center', yanchor:'middle',
  font:{family:'Liberation Serif', size:24, color:'#222'}});
layout.annotations.push({xref:'paper', yref:'paper', x:720/W, y:1-1532/H, text:'<b>Time (every 15 minutes)</b>',
  showarrow:false, xanchor:'center', yanchor:'middle',
  font:{family:'Liberation Serif', size:23, color:'#222'}});

Plotly.newPlot('chart', traces, layout, {staticPlot:true, displayModeBar:false});
</script></body></html>
